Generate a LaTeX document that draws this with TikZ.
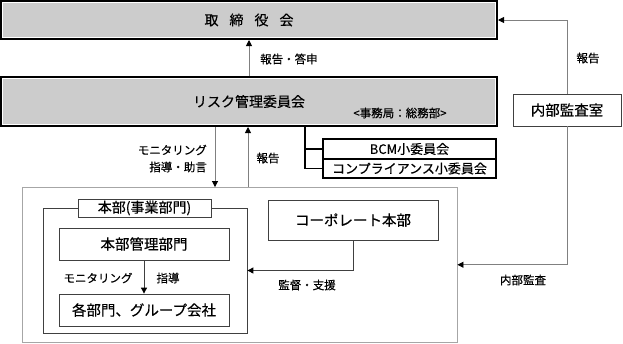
\documentclass[tikz,border=0pt]{standalone}
\usepackage{fontspec}
\setmainfont{Noto Sans CJK JP}[FakeBold=0.4]
\usetikzlibrary{arrows.meta}
\definecolor{boxgray}{HTML}{CCCCCC}
\definecolor{linegray}{HTML}{808080}
\definecolor{outergray}{HTML}{A6A6A6}
\definecolor{edgegray}{HTML}{404040}
\begin{document}
\begin{tikzpicture}[x=1pt,y=-1pt,
  bevel/.style={fill=boxgray, draw=black, line width=2pt, inner sep=0pt,
    font=\fontsize{14}{16}\selectfont,
    path picture={\draw[white,line width=4pt] (path picture bounding box.north west) rectangle (path picture bounding box.south east);}},
  box/.style={draw=edgegray, fill=white, line width=0.8pt, inner sep=0pt, font=\fontsize{14.5}{16}\selectfont},
  subbox/.style={draw=black, fill=white, line width=1.4pt, inner sep=0pt, font=\fontsize{13}{15}\selectfont},
  lbl/.style={inner sep=0pt, font=\fontsize{11.5}{13}\selectfont},
  conn/.style={draw=linegray, line width=0.9pt},
  arr/.style={-{Triangle[length=6pt,width=6pt,color=black]}},
  branch/.style={draw=black, line width=1.6pt}
]
\useasboundingbox (0,0) rectangle (623,343);

% top boxes
\node[bevel, minimum width=496pt, minimum height=38pt] (board) at (249,20) {取\hspace{11pt}締\hspace{11pt}役\hspace{11pt}会};
\node[bevel, minimum width=496pt, minimum height=49pt] (risk) at (249,101.5) {リスク管理委員会};
\node[lbl] (jim) at (400,113) {<事務局：総務部>};
\node[box, minimum width=108pt, minimum height=32pt] (audit) at (567,110) {内部監査室};
\node[subbox, minimum width=173pt, minimum height=20pt] (bcm) at (409.5,149) {BCM小委員会};
\node[subbox, minimum width=173pt, minimum height=19pt] (comp) at (409.5,168.5) {コンプライアンス小委員会};

% lower area
\node[draw=outergray, line width=0.9pt, inner sep=0pt, minimum width=434.5pt, minimum height=154.5pt] (outer) at (239.75,264.75) {};
\node[draw=edgegray, line width=0.8pt, inner sep=0pt, minimum width=204pt, minimum height=125pt] (group) at (145,270.5) {};
\node[box, minimum width=133pt, minimum height=18pt, font=\fontsize{14}{16}\selectfont] (title) at (144.5,208) {本部(事業部門)};
\node[box, minimum width=170pt, minimum height=32pt] (hq) at (144,244) {本部管理部門};
\node[box, minimum width=170pt, minimum height=32pt] (depts) at (144,310) {各部門、グループ会社};
\node[box, minimum width=170pt, minimum height=40pt] (corp) at (353,220) {コーポレート本部};

% connectors
\coordinate (dx) at (215,0);
\coordinate (ux) at (248,0);
\coordinate (bx) at (305,0);

\draw[conn,arr] (risk.north) -- (board.south);
\node[lbl, anchor=west] (l1) at (260,59) {報告・答申};

\draw[conn,arr] (risk.south -| dx) -- (outer.north -| dx);
\draw[conn,arr] (outer.north -| ux) -- (risk.south -| ux);
\node[lbl, anchor=east] (l2) at (207,150) {モニタリング};
\node[lbl, anchor=east] (l3) at (207,167) {指導・助言};
\node[lbl] (l4) at (268,158) {報告};

\draw[branch] (risk.south -| bx) -- (comp.west -| bx) -- (comp.west);
\draw[branch] (bcm.west -| bx) -- (bcm.west);

\draw[conn,arr] (audit.north) |- (board.east);
\draw[conn,arr] (audit.south) |- (outer.east);
\node[lbl] (l5) at (588,58) {報告};
\node[lbl] (l6) at (523,280) {内部監査};

\draw[conn,draw=edgegray,arr] (corp.south) |- (group.east);
\node[lbl] (l7) at (307,285) {監督・支援};

\draw[conn,draw=edgegray,arr] (hq.south) -- (depts.north);
\node[lbl] (l8) at (98,278) {モニタリング};
\node[lbl] (l9) at (168,278) {指導};
\end{tikzpicture}
\end{document}
